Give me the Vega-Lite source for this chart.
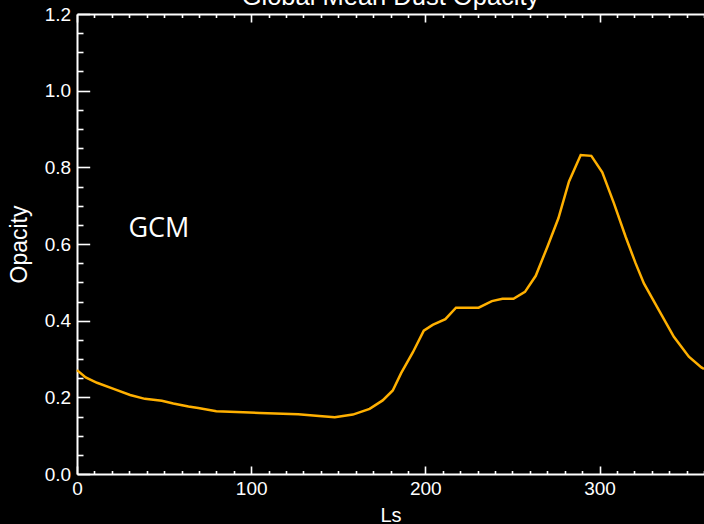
{
  "$schema": "https://vega.github.io/schema/vega-lite/v6.json",
  "width": 627,
  "height": 460,
  "autosize": {"type": "none"},
  "padding": {"left": 77, "top": 14, "right": 0, "bottom": 50},
  "background": "black",
  "config": {
    "view": {"stroke": null},
    "font": "Liberation Sans",
    "axis": {
      "grid": false,
      "domainColor": "white",
      "domainWidth": 2,
      "tickColor": "white",
      "tickWidth": 1.6,
      "labelColor": "white",
      "labelFont": "Liberation Sans",
      "labelFontSize": 19,
      "labelOverlap": false,
      "labelFlush": false,
      "titleColor": "white",
      "titleFont": "Liberation Sans",
      "titleFontSize": 20,
      "titleFontWeight": "normal"
    }
  },
  "title": {
    "text": "Global Mean Dust Opacity",
    "color": "white",
    "font": "Liberation Sans",
    "fontSize": 25.5,
    "fontWeight": "normal",
    "anchor": "middle",
    "baseline": "alphabetic",
    "offset": -8,
    "dy": 17
  },
  "data": {
    "values": [
      {"Ls": 0, "Opacity": 0.271},
      {"Ls": 5, "Opacity": 0.252},
      {"Ls": 11.5, "Opacity": 0.238},
      {"Ls": 21, "Opacity": 0.222},
      {"Ls": 30.5, "Opacity": 0.206},
      {"Ls": 39, "Opacity": 0.196},
      {"Ls": 48.7, "Opacity": 0.191},
      {"Ls": 55.3, "Opacity": 0.184},
      {"Ls": 64, "Opacity": 0.176},
      {"Ls": 69.6, "Opacity": 0.172},
      {"Ls": 80, "Opacity": 0.164},
      {"Ls": 95.4, "Opacity": 0.161},
      {"Ls": 105, "Opacity": 0.159},
      {"Ls": 127, "Opacity": 0.156},
      {"Ls": 139, "Opacity": 0.151},
      {"Ls": 148, "Opacity": 0.148},
      {"Ls": 158.4, "Opacity": 0.155},
      {"Ls": 168, "Opacity": 0.170},
      {"Ls": 175.5, "Opacity": 0.192},
      {"Ls": 181.3, "Opacity": 0.218},
      {"Ls": 186.1, "Opacity": 0.263},
      {"Ls": 192.8, "Opacity": 0.317},
      {"Ls": 199.1, "Opacity": 0.374},
      {"Ls": 204.2, "Opacity": 0.389},
      {"Ls": 211.5, "Opacity": 0.404},
      {"Ls": 217.6, "Opacity": 0.434},
      {"Ls": 230.6, "Opacity": 0.434},
      {"Ls": 238.2, "Opacity": 0.451},
      {"Ls": 244.3, "Opacity": 0.457},
      {"Ls": 250.6, "Opacity": 0.457},
      {"Ls": 257.2, "Opacity": 0.475},
      {"Ls": 263.4, "Opacity": 0.517},
      {"Ls": 270.1, "Opacity": 0.593},
      {"Ls": 276.4, "Opacity": 0.667},
      {"Ls": 282.5, "Opacity": 0.763},
      {"Ls": 289.2, "Opacity": 0.832},
      {"Ls": 295.3, "Opacity": 0.830},
      {"Ls": 301.6, "Opacity": 0.787},
      {"Ls": 308.3, "Opacity": 0.706},
      {"Ls": 315, "Opacity": 0.619},
      {"Ls": 320.7, "Opacity": 0.550},
      {"Ls": 325.5, "Opacity": 0.497},
      {"Ls": 334, "Opacity": 0.428},
      {"Ls": 342.7, "Opacity": 0.358},
      {"Ls": 351.3, "Opacity": 0.306},
      {"Ls": 358.5, "Opacity": 0.278},
      {"Ls": 360, "Opacity": 0.274}
    ]
  },
  "layer": [
    {
      "mark": {"type": "line", "color": "#FFB000", "strokeWidth": 2.5},
      "encoding": {
        "x": {
          "field": "Ls",
          "type": "quantitative",
          "scale": {"domain": [0, 360], "nice": false, "zero": false},
          "axis": {
            "orient": "bottom",
            "values": [0,10,20,30,40,50,60,70,80,90,100,110,120,130,140,150,160,170,180,190,200,210,220,230,240,250,260,270,280,290,300,310,320,330,340,350,360],
            "tickSize": {"condition": {"test": "datum.value % 100 === 0", "value": -8}, "value": -3.5},
            "labelExpr": "datum.value % 100 === 0 ? datum.label : ''",
            "labelPadding": 13,
            "title": "Ls",
            "titlePadding": 3
          }
        },
        "y": {
          "field": "Opacity",
          "type": "quantitative",
          "scale": {"domain": [0, 1.2], "nice": false, "zero": false},
          "axis": {
            "orient": "left",
            "values": [0,0.05,0.1,0.15,0.2,0.25,0.3,0.35,0.4,0.45,0.5,0.55,0.6,0.65,0.7,0.75,0.8,0.85,0.9,0.95,1.0,1.05,1.1,1.15,1.2],
            "tickSize": {"condition": {"test": "abs(datum.value*5 - round(datum.value*5)) < 0.001", "value": -12.7}, "value": -6},
            "labelExpr": "abs(datum.value*5 - round(datum.value*5)) < 0.001 ? format(datum.value, '.1f') : ''",
            "labelPadding": 19,
            "title": "Opacity",
            "titleFontSize": 23,
            "titlePadding": 13
          }
        }
      }
    },
    {
      "mark": {"type": "line", "strokeOpacity": 0},
      "encoding": {
        "x": {
          "field": "Ls",
          "type": "quantitative",
          "scale": {"domain": [0, 360], "nice": false, "zero": false},
          "axis": {
            "orient": "top",
            "values": [0,10,20,30,40,50,60,70,80,90,100,110,120,130,140,150,160,170,180,190,200,210,220,230,240,250,260,270,280,290,300,310,320,330,340,350,360],
            "tickSize": {"condition": {"test": "datum.value % 100 === 0", "value": -8}, "value": -3.5},
            "labels": false,
            "title": null
          }
        },
        "y": {
          "field": "Opacity",
          "type": "quantitative",
          "scale": {"domain": [0, 1.2], "nice": false, "zero": false},
          "axis": null
        }
      }
    },
    {
      "data": {"values": [{"label": "GCM", "Ls": 47, "Opacity": 0.64}]},
      "mark": {"type": "text", "font": "Open Sans", "fontSize": 27, "color": "white", "align": "center", "baseline": "middle"},
      "encoding": {
        "x": {"field": "Ls", "type": "quantitative", "axis": null},
        "y": {"field": "Opacity", "type": "quantitative", "axis": null},
        "text": {"field": "label"}
      }
    }
  ],
  "resolve": {"axis": {"x": "independent", "y": "independent"}}
}
